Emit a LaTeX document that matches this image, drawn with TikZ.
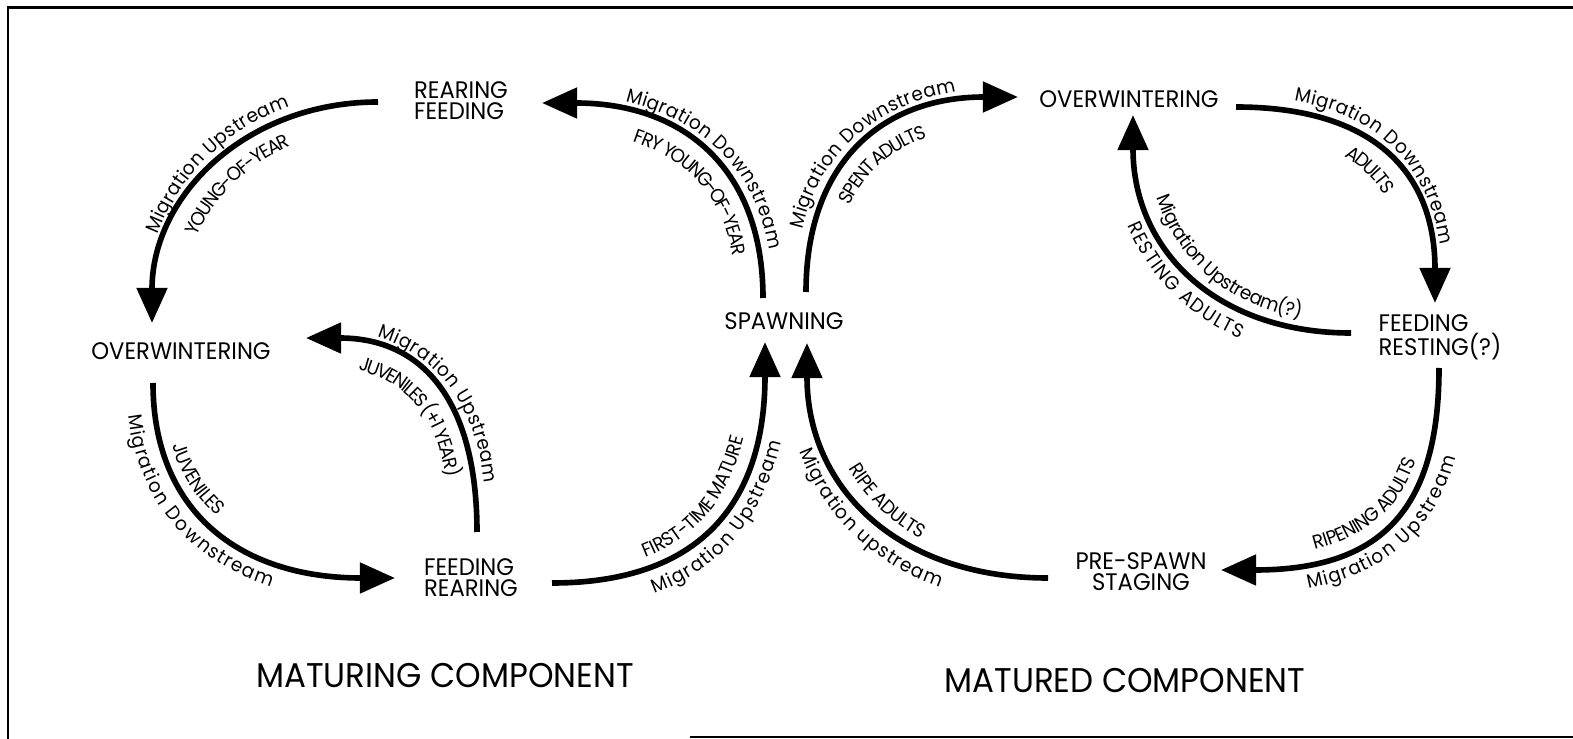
\documentclass[tikz,border=0pt]{standalone}
\usepackage{fontspec}
\setmainfont{Poppins}[FakeStretch=0.95]
\usetikzlibrary{arrows.meta, calc, decorations.text}

\newcommand{\lblfont}{\fontsize{11}{13}\selectfont}

\begin{document}
\begin{tikzpicture}[x=0.02cm, y=-0.02cm,
    stage/.style={font=\fontsize{13.6}{12}\selectfont, align=left, inner sep=0pt},
    compname/.style={font=\fontsize{19.5}{22}\selectfont, inner sep=0pt},
    arrow/.style={line width=3.2pt, >={Triangle[length=20pt, width=17pt]}},
    lefttext/.style 2 args={postaction={decorate, decoration={text along path, text={|\lblfont|#1}, text align={center, #2}, raise=6pt}}},
    righttext/.style 2 args={postaction={decorate, decoration={text along path, text={|\lblfont|#1}, text align={center, #2}, raise=-15pt}}}
]
    \useasboundingbox (0,0) rectangle (1573,739);
    \draw[line width=1.7pt] (1573,8) -- (8,8) -- (8,739);
    \draw[line width=0.8pt] (690,737) -- (1573,737);

    \node[stage] (rearfeed) at (461,101) {REARING\\FEEDING};
    \node[stage] (owleft) at (181,351) {OVERWINTERING};
    \node[stage] (feedrear) at (471,578) {FEEDING\\REARING};
    \node[stage] (spawn) at (784,321) {SPAWNING};
    \node[stage] (owright) at (1129,99) {OVERWINTERING};
    \node[stage] (feedrest) at (1440,337) {FEEDING\\RESTING(?)};
    \node[stage, align=center] (prespawn) at (1141,572) {PRE-SPAWN\\STAGING};

    % maturing component
    \draw[arrow, <-, lefttext={Migration Upstream}{}, righttext={YOUNG-OF-YEAR}{}]
        ($(owleft)+(-29,-28)$) .. controls (152,195) and (247,102) .. ($(rearfeed)+(-83,1)$);
    \draw[arrow, ->, lefttext={JUVENILES}{right indent=74pt}, righttext={Migration Downstream}{right indent=50pt}]
        ($(owleft)+(-28,32)$) .. controls (153,510) and (238,578) .. ($(feedrear)+(-76,0)$);
    \draw[arrow, <-, lefttext={Migration Upstream}{left indent=12pt}, righttext={JUVENILES (+1 YEAR)}{}]
        ($(owleft)+(125,-13)$) .. controls (422,338) and (477,400) .. ($(feedrear)+(6,-46)$);
    \draw[arrow, ->, lefttext={FIRST-TIME MATURE}{}, righttext={Migration Upstream}{}]
        ($(feedrear)+(81,5)$) .. controls (697,583) and (765,506) .. ($(spawn)+(-19,21)$);
    \draw[arrow, <-, lefttext={Migration Downstream}{left indent=20pt}, righttext={FRY YOUNG-OF-YEAR}{left indent=30pt}]
        ($(rearfeed)+(81,2)$) .. controls (686,103) and (763,171) .. ($(spawn)+(-21,-23)$);

    % matured component
    \draw[arrow, ->, lefttext={Migration Downstream}{}, righttext={SPENT ADULTS}{}]
        ($(spawn)+(22,-29)$) .. controls (806,165) and (880,97) .. ($(owright)+(-111,-2)$);
    \draw[arrow, ->, lefttext={Migration Downstream}{}, righttext={ADULTS}{}]
        ($(owright)+(107,8)$) .. controls (1371,107) and (1435,170) .. ($(feedrest)+(-5,-34)$);
    \draw[arrow, <-, lefttext={Migration Upstream(?)}{left indent=20pt}, righttext={RESTING ADULTS}{}]
        ($(owright)+(4,16)$) .. controls (1133,250) and (1216,333) .. ($(feedrest)+(-89,-4)$);
    \draw[arrow, <-, lefttext={RIPENING ADULTS}{}, righttext={Migration Upstream}{}]
        ($(prespawn)+(80,-2)$) .. controls (1378,570) and (1439,513) .. ($(feedrest)+(-1,31)$);
    \draw[arrow, <-, lefttext={RIPE ADULTS}{}, righttext={Migration upstream}{}]
        ($(spawn)+(23,22)$) .. controls (807,489) and (899,578) .. ($(prespawn)+(-93,6)$);

    \node[compname] (maturing) at (445,676) {MATURING COMPONENT};
    \node[compname] (matured) at (1125,681) {MATURED COMPONENT};
\end{tikzpicture}
\end{document}
